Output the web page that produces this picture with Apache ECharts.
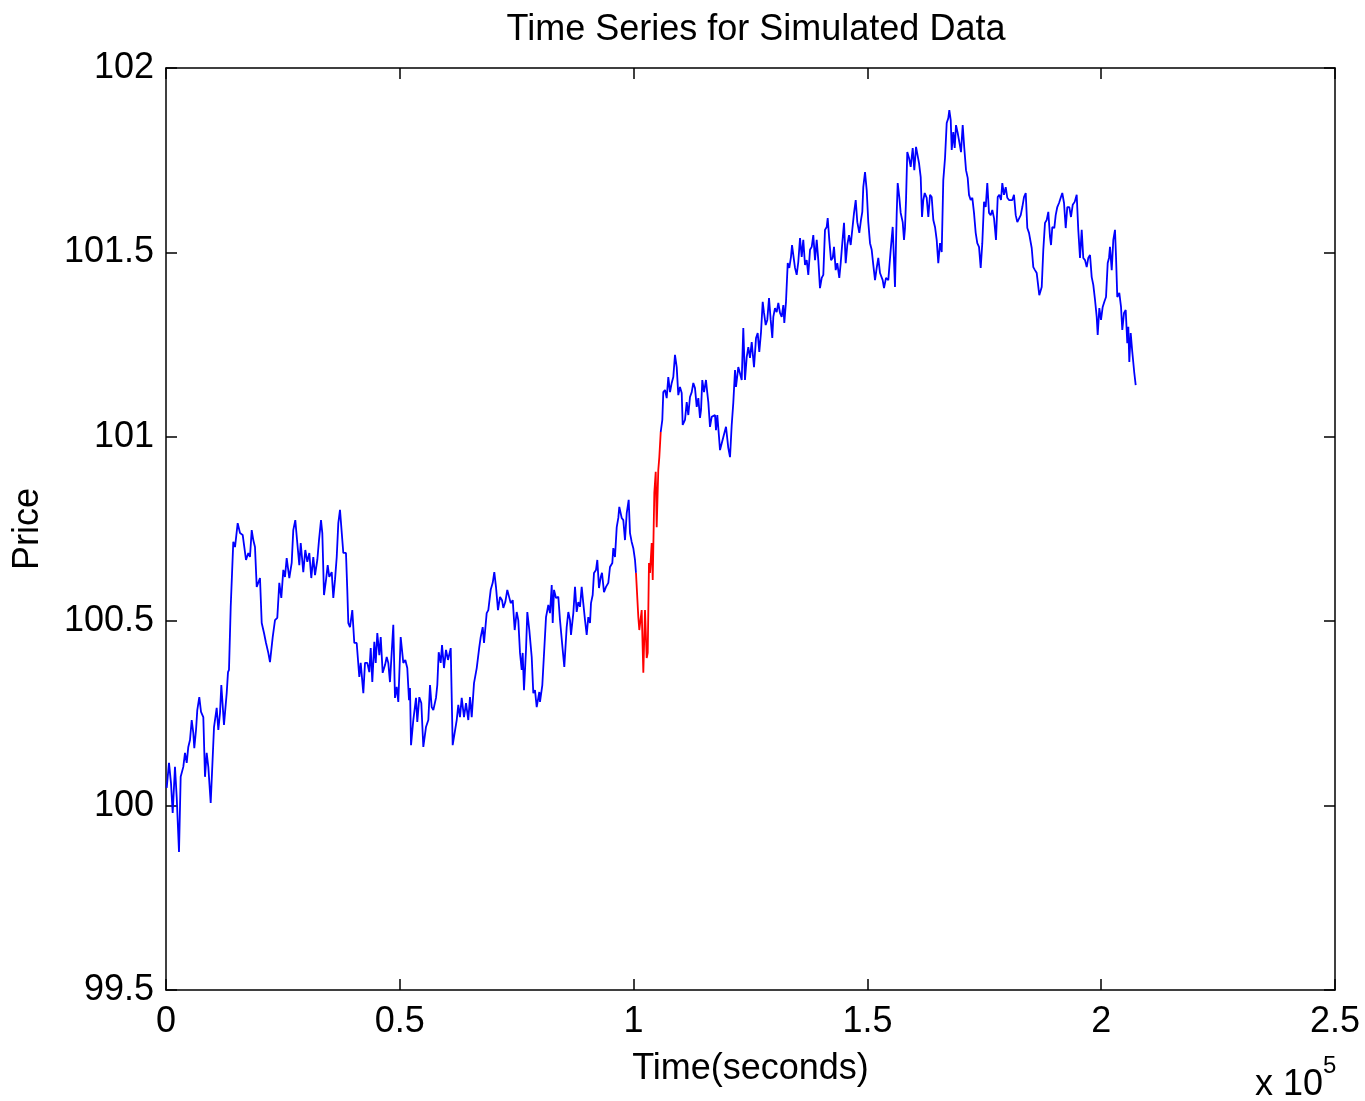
<!DOCTYPE html>
<html>
<head>
<meta charset="utf-8">
<script src="https://cdn.jsdelivr.net/npm/echarts@6/dist/echarts.min.js"></script>
<style>html,body{margin:0;padding:0;background:#fff;}#chart{width:1365px;height:1101px;}</style>
</head>
<body>
<div id="chart"></div>
<script>
// Tick labels
var xTickValues = [0, 50000, 100000, 150000, 200000, 250000];
var xTickLabels = ['0', '0.5', '1', '1.5', '2', '2.5'];
var yTickValues = [99.5, 100, 100.5, 101, 101.5, 102];
var yTickLabels = ['99.5', '100', '100.5', '101', '101.5', '102'];

// Series: [time (s), price]
var segmentBefore = [[150,100.048],[640,100.116],[1070,100.061],[1430,99.980],[1920,100.105],[2290,100.023],[2780,99.874],[3140,100.078],[3700,100.105],[4060,100.143],[4430,100.116],[4770,100.159],[5130,100.178],[5500,100.232],[5840,100.197],[6050,100.156],[6420,100.205],[6690,100.259],[7120,100.294],[7490,100.254],[7980,100.240],[8340,100.078],[8700,100.143],[9050,100.105],[9560,100.007],[10270,100.213],[10840,100.265],[11190,100.205],[11550,100.251],[11830,100.327],[12400,100.219],[12980,100.305],[13260,100.362],[13470,100.368],[13840,100.539],[14390,100.715],[14760,100.701],[15330,100.766],[15830,100.739],[16400,100.734],[17110,100.666],[17600,100.685],[17960,100.674],[18330,100.747],[18670,100.720],[19030,100.701],[19400,100.593],[20100,100.617],[20470,100.495],[20960,100.468],[21390,100.441],[21880,100.414],[22240,100.389],[22820,100.457],[23310,100.503],[23800,100.509],[24230,100.604],[24660,100.563],[25090,100.639],[25450,100.620],[25810,100.671],[26370,100.617],[26880,100.658],[27220,100.747],[27650,100.774],[28080,100.712],[28510,100.652],[28810,100.712],[29360,100.633],[29790,100.693],[30220,100.661],[30650,100.685],[31070,100.617],[31500,100.674],[31870,100.625],[32360,100.666],[32720,100.720],[33150,100.774],[33430,100.739],[33790,100.571],[34220,100.612],[34580,100.652],[34920,100.620],[35440,100.633],[35780,100.563],[36140,100.612],[36510,100.674],[36850,100.766],[37210,100.802],[37920,100.685],[38490,100.685],[38770,100.585],[38990,100.495],[39350,100.484],[39840,100.530],[40270,100.441],[40780,100.441],[41340,100.349],[41640,100.387],[42200,100.305],[42560,100.387],[43050,100.387],[43480,100.362],[43780,100.427],[44120,100.335],[44550,100.444],[44850,100.387],[45190,100.468],[45620,100.408],[45920,100.457],[46340,100.360],[46840,100.381],[47200,100.403],[47540,100.387],[47900,100.335],[48270,100.416],[48610,100.490],[48970,100.292],[49340,100.322],[49680,100.281],[50190,100.457],[50750,100.387],[51180,100.395],[51600,100.373],[51970,100.286],[52180,100.319],[52400,100.164],[52890,100.232],[53470,100.292],[53740,100.227],[54170,100.294],[54600,100.278],[55030,100.159],[55600,100.213],[56100,100.232],[56460,100.327],[56820,100.267],[57170,100.259],[57740,100.292],[58020,100.327],[58320,100.416],[58750,100.387],[59030,100.435],[59450,100.373],[59880,100.422],[60310,100.395],[60890,100.427],[61310,100.164],[61660,100.159],[62170,100.232],[62510,100.273],[62870,100.240],[63240,100.292],[63730,100.240],[64160,100.278],[64650,100.232],[65010,100.294],[65380,100.240],[65870,100.332],[66450,100.373],[67000,100.430],[67300,100.457],[67730,100.484],[68010,100.441],[68580,100.522],[68930,100.530],[69440,100.585],[69870,100.604],[70210,100.633],[70570,100.593],[71000,100.530],[71430,100.566],[71860,100.557],[72140,100.536],[72560,100.552],[72990,100.585],[73350,100.590],[73720,100.549],[74150,100.557],[74570,100.476],[75000,100.525],[75340,100.503],[75710,100.414],[76070,100.368],[76280,100.414],[76560,100.313],[76990,100.422],[77270,100.525],[77700,100.476],[78210,100.403],[78550,100.305],[78910,100.313],[79280,100.267],[79830,100.308],[79980,100.281],[80480,100.327],[80840,100.322],[81270,100.511],[81760,100.544],[82120,100.522],[82490,100.598],[82700,100.495],[82980,100.585],[83410,100.563],[83900,100.566],[84260,100.503],[84840,100.422],[85180,100.376],[85690,100.484],[86040,100.525],[86400,100.503],[86610,100.463],[87110,100.522],[87470,100.593],[87830,100.525],[88170,100.552],[88540,100.539],[88900,100.593],[89240,100.549],[89610,100.503],[89970,100.463],[90310,100.511],[90680,100.495],[90890,100.549],[91250,100.571],[91530,100.631],[91960,100.639],[92240,100.666],[92600,100.590],[92970,100.620],[93240,100.631],[93670,100.579],[94100,100.593],[94590,100.604],[94950,100.647],[95450,100.658],[95660,100.698],[96020,100.674],[96390,100.755],[96730,100.780],[96940,100.810],[97460,100.780],[97800,100.774],[98160,100.720],[98530,100.793],[98950,100.829],[99230,100.739],[99590,100.715],[99940,100.698],[100300,100.666],[100510,100.631]];

var segmentRed = [[100510,100.631],[101010,100.511],[101220,100.476],[101730,100.530],[102080,100.360],[102440,100.530],[102800,100.400],[103020,100.414],[103290,100.658],[103510,100.631],[103870,100.712],[104090,100.612],[104430,100.848],[104730,100.905],[104940,100.755],[105280,100.910],[105500,100.945],[105800,101.013]];

var segmentAfter = [[105800,101.013],[106140,101.046],[106350,101.121],[106720,101.127],[107080,101.105],[107420,101.162],[107790,101.121],[108150,101.146],[108490,101.162],[108850,101.222],[109220,101.189],[109560,101.113],[109920,101.135],[110290,101.119],[110500,101.032],[110990,101.046],[111360,101.094],[111700,101.059],[112060,101.108],[112430,101.121],[112770,101.146],[113130,101.132],[113500,101.081],[113840,101.105],[114200,101.051],[114420,101.073],[114690,101.154],[115060,101.121],[115480,101.154],[115760,101.119],[115980,101.094],[116340,101.027],[116700,101.054],[117050,101.051],[117410,101.059],[117620,101.018],[117900,101.059],[118270,100.999],[118480,100.964],[119180,100.999],[119760,101.027],[120250,100.970],[120620,100.945],[120980,101.032],[121320,101.092],[121690,101.181],[121900,101.135],[122390,101.189],[122760,101.189],[123120,101.154],[123460,101.295],[123820,101.154],[124190,101.216],[124530,101.243],[124890,101.214],[125260,101.257],[125750,101.189],[126180,101.268],[126540,101.281],[126880,101.230],[127250,101.284],[127610,101.366],[127890,101.336],[128250,101.303],[128590,101.317],[128960,101.376],[129320,101.317],[129660,101.268],[129880,101.325],[130240,101.349],[130600,101.338],[130950,101.363],[131310,101.336],[131670,101.325],[132020,101.357],[132230,101.309],[132590,101.366],[132960,101.471],[133300,101.458],[133660,101.488],[133880,101.520],[134150,101.520],[134520,101.458],[134880,101.439],[135220,101.474],[135590,101.539],[135950,101.488],[136290,101.534],[136660,101.466],[137020,101.479],[137360,101.439],[137730,101.507],[138090,101.515],[138430,101.547],[138800,101.479],[139160,101.534],[139500,101.479],[139860,101.403],[140230,101.431],[140570,101.439],[140930,101.561],[141300,101.569],[141510,101.593],[141850,101.534],[142220,101.479],[142580,101.485],[142860,101.515],[143220,101.452],[143560,101.471],[143990,101.431],[144290,101.471],[144630,101.525],[145000,101.580],[145360,101.471],[145700,101.520],[146070,101.547],[146430,101.520],[146770,101.515],[147140,101.607],[147500,101.642],[147840,101.582],[148270,101.553],[148630,101.588],[148910,101.610],[149120,101.677],[149490,101.718],[149850,101.669],[150190,101.582],[150560,101.525],[150920,101.507],[151260,101.466],[151630,101.425],[151990,101.458],[152330,101.485],[152700,101.444],[153270,101.425],[153550,101.403],[153980,101.431],[154470,101.425],[154980,101.507],[155410,101.569],[155900,101.406],[156270,101.607],[156480,101.688],[156820,101.650],[157120,101.607],[157550,101.582],[157830,101.534],[158040,101.566],[158260,101.642],[158530,101.772],[158900,101.756],[159260,101.732],[159690,101.783],[160030,101.723],[160400,101.786],[160670,101.791],[161040,101.742],[161400,101.704],[161680,101.596],[161960,101.642],[162260,101.661],[162680,101.648],[163030,101.596],[163390,101.656],[163750,101.650],[164100,101.588],[164460,101.569],[164820,101.534],[165160,101.471],[165530,101.525],[165890,101.501],[166230,101.696],[166600,101.756],[166960,101.851],[167300,101.864],[167520,101.886],[167820,101.859],[168030,101.778],[168370,101.826],[168670,101.783],[168950,101.845],[169310,101.824],[169660,101.799],[170020,101.772],[170380,101.845],[170720,101.783],[171090,101.723],[171450,101.702],[171730,101.656],[172090,101.642],[172440,101.648],[172800,101.607],[173160,101.553],[173500,101.525],[173870,101.515],[174230,101.458],[174570,101.525],[174940,101.637],[175300,101.623],[175640,101.688],[176010,101.607],[176370,101.601],[176710,101.615],[177080,101.593],[177500,101.534],[177870,101.650],[178210,101.656],[178570,101.642],[178850,101.688],[179210,101.656],[179580,101.677],[179920,101.648],[180280,101.642],[180650,101.637],[180990,101.642],[181350,101.656],[181720,101.601],[182060,101.582],[182420,101.580],[182790,101.601],[183130,101.623],[183490,101.650],[183860,101.661],[184200,101.566],[184560,101.553],[185140,101.512],[185480,101.460],[185840,101.452],[186210,101.444],[186760,101.384],[187280,101.406],[187620,101.507],[187980,101.580],[188350,101.588],[188690,101.610],[189050,101.542],[189270,101.520],[189540,101.569],[189970,101.566],[190270,101.601],[190610,101.623],[190980,101.634],[191340,101.648],[191680,101.661],[192050,101.634],[192410,101.566],[192750,101.623],[193180,101.623],[193540,101.596],[193910,101.629],[194330,101.637],[194760,101.656],[195100,101.561],[195470,101.485],[195830,101.561],[196170,101.485],[196540,101.479],[196900,101.460],[197240,101.485],[197610,101.493],[197970,101.433],[198310,101.412],[198680,101.371],[199040,101.325],[199250,101.276],[199600,101.349],[199960,101.317],[200320,101.352],[200670,101.366],[201030,101.379],[201390,101.471],[201670,101.485],[201880,101.515],[202250,101.452],[202590,101.534],[202950,101.561],[203170,101.488],[203440,101.379],[203870,101.390],[204240,101.352],[204510,101.290],[204880,101.336],[205240,101.344],[205580,101.254],[205800,101.298],[206010,101.203],[206310,101.281],[206650,101.230],[206870,101.235],[207080,101.173],[207380,101.140]];

var FONT = '"Liberation Sans", Arial, Helvetica, sans-serif';
var FS = 36;

function labelFor(values, labels) {
  return function (v) {
    for (var i = 0; i < values.length; i++) {
      if (Math.abs(values[i] - v) < 1e-6 * Math.max(1, Math.abs(v))) return labels[i];
    }
    return '';
  };
}

var chart = echarts.init(document.getElementById('chart'), null, {renderer: 'canvas'});

var lineCommon = {color: '#000', width: 1.5};
var tickCommon = {show: true, inside: true, length: 11, lineStyle: lineCommon};

chart.setOption({
  animation: false,
  backgroundColor: '#fff',
  title: {
    text: 'Time Series for Simulated Data',
    left: 751,
    textAlign: 'center',
    top: 7,
    textStyle: {color: '#000', fontSize: FS, fontWeight: 'normal', fontFamily: FONT}
  },
  grid: {left: 166, right: 30, top: 68, bottom: 111, containLabel: false},
  xAxis: [{
    type: 'value', min: 0, max: 250000, interval: 50000, position: 'bottom',
    axisLine: {show: true, onZero: false, lineStyle: lineCommon},
    axisTick: tickCommon,
    splitLine: {show: false},
    axisLabel: {color: '#000', fontSize: FS, fontFamily: FONT, margin: 14,
      showMinLabel: true, showMaxLabel: true, formatter: labelFor(xTickValues, xTickLabels)},
    name: 'Time(seconds)', nameLocation: 'middle', nameGap: 61,
    nameTextStyle: {color: '#000', fontSize: FS, fontFamily: FONT}
  }, {
    type: 'value', min: 0, max: 250000, interval: 50000, position: 'top',
    axisLine: {show: true, onZero: false, lineStyle: lineCommon},
    axisTick: tickCommon, splitLine: {show: false}, axisLabel: {show: false}
  }],
  yAxis: [{
    type: 'value', min: 99.5, max: 102, interval: 0.5, position: 'left',
    axisLine: {show: true, onZero: false, lineStyle: lineCommon},
    axisTick: tickCommon,
    splitLine: {show: false},
    axisLabel: {color: '#000', fontSize: FS, fontFamily: FONT, margin: 12,
      showMinLabel: true, showMaxLabel: true, formatter: labelFor(yTickValues, yTickLabels)},
    name: 'Price', nameLocation: 'middle', nameGap: 120, nameRotate: 90,
    nameTextStyle: {color: '#000', fontSize: FS, fontFamily: FONT}
  }, {
    type: 'value', min: 99.5, max: 102, interval: 0.5, position: 'right',
    axisLine: {show: true, onZero: false, lineStyle: lineCommon},
    axisTick: tickCommon, splitLine: {show: false}, axisLabel: {show: false}
  }],
  graphic: [
    {type: 'text', left: 1255, top: 1067, style: {text: 'x 10', fill: '#000', font: FS + 'px ' + FONT}},
    {type: 'text', left: 1323, top: 1054, style: {text: '5', fill: '#000', font: '24px ' + FONT}}
  ],
  series: [
    {type: 'line', data: segmentBefore, xAxisIndex: 0, yAxisIndex: 0, showSymbol: false, symbol: 'none',
      lineStyle: {color: '#0000ff', width: 1.8}, itemStyle: {color: '#0000ff'}, silent: true},
    {type: 'line', data: segmentRed, xAxisIndex: 0, yAxisIndex: 0, showSymbol: false, symbol: 'none',
      lineStyle: {color: '#ff0000', width: 1.8}, itemStyle: {color: '#ff0000'}, silent: true},
    {type: 'line', data: segmentAfter, xAxisIndex: 0, yAxisIndex: 0, showSymbol: false, symbol: 'none',
      lineStyle: {color: '#0000ff', width: 1.8}, itemStyle: {color: '#0000ff'}, silent: true}
  ]
});
</script>
</body>
</html>
